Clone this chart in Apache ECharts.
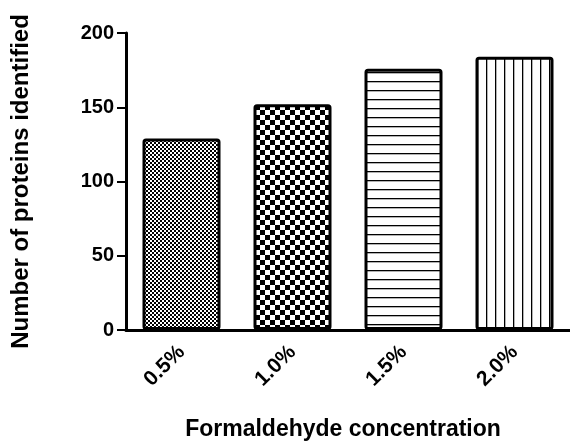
<!DOCTYPE html>
<html>
<head>
<meta charset="utf-8">
<script src="https://cdn.jsdelivr.net/npm/echarts@6/dist/echarts.min.js"></script>
<style>
  html, body { margin: 0; padding: 0; background: #fff; }
  #chart { width: 570px; height: 446px; }
</style>
</head>
<body>
<div id="chart"></div>
<script>
// data
var categories = ['0.5%', '1.0%', '1.5%', '2.0%'];
var proteinCounts = [129, 152, 176, 184];
var yTicks = [0, 50, 100, 150, 200];

// little canvas tiles for the bar fills
function makePattern(kind) {
  var c = document.createElement('canvas');
  var ctx = c.getContext('2d');
  if (kind === 'fineCheck' || kind === 'coarseCheck') {
    var s = kind === 'fineCheck' ? 2 : 5;
    c.width = c.height = s * 2;
    ctx.fillStyle = '#fff';
    ctx.fillRect(0, 0, s * 2, s * 2);
    ctx.fillStyle = '#000';
    ctx.fillRect(0, 0, s, s);
    ctx.fillRect(s, s, s, s);
  } else if (kind === 'hlines') {
    c.width = 9; c.height = 9;
    ctx.fillStyle = '#fff';
    ctx.fillRect(0, 0, 9, 9);
    ctx.fillStyle = '#000';
    ctx.fillRect(0, 0, 9, 1.3);
  } else {
    c.width = 9; c.height = 9;
    ctx.fillStyle = '#fff';
    ctx.fillRect(0, 0, 9, 9);
    ctx.fillStyle = '#000';
    ctx.fillRect(0, 0, 1.3, 9);
  }
  return { image: c, repeat: 'repeat' };
}
var patterns = ['fineCheck', 'coarseCheck', 'hlines', 'vlines'];

var chart = echarts.init(document.getElementById('chart'));
var font = 'Liberation Sans, Arial, sans-serif';

chart.setOption({
  animation: false,
  grid: { left: 126, right: -6, top: 33, bottom: 114 },
  xAxis: {
    type: 'category',
    data: categories,
    name: 'Formaldehyde concentration',
    nameLocation: 'middle',
    nameGap: 88,
    nameTextStyle: { fontFamily: font, fontWeight: 'bold', fontSize: 23, color: '#000', padding: [0, 10, 0, 0] },
    axisLine: { lineStyle: { color: '#000', width: 3 } },
    axisTick: { alignWithLabel: true, length: 7, lineStyle: { color: '#000', width: 2 } },
    axisLabel: { rotate: 45, margin: 19, fontFamily: font, fontWeight: 'bold', fontSize: 21, color: '#000' }
  },
  yAxis: {
    type: 'value',
    min: yTicks[0],
    max: yTicks[yTicks.length - 1],
    interval: 50,
    name: 'Number of proteins identified',
    nameLocation: 'middle',
    nameGap: 93,
    nameTextStyle: { fontFamily: font, fontWeight: 'bold', fontSize: 24, color: '#000' },
    axisLine: { show: true, lineStyle: { color: '#000', width: 3 } },
    axisTick: { show: true, length: 9, lineStyle: { color: '#000', width: 2 } },
    axisLabel: { margin: 12, fontFamily: font, fontWeight: 'bold', fontSize: 20, color: '#000' },
    splitLine: { show: false }
  },
  series: [{
    type: 'bar',
    barWidth: 78,
    data: proteinCounts.map(function (v, i) {
      return {
        value: v,
        itemStyle: {
          color: makePattern(patterns[i]),
          borderColor: '#000',
          borderWidth: 3,
          borderRadius: 2
        }
      };
    })
  }]
});
</script>
</body>
</html>
